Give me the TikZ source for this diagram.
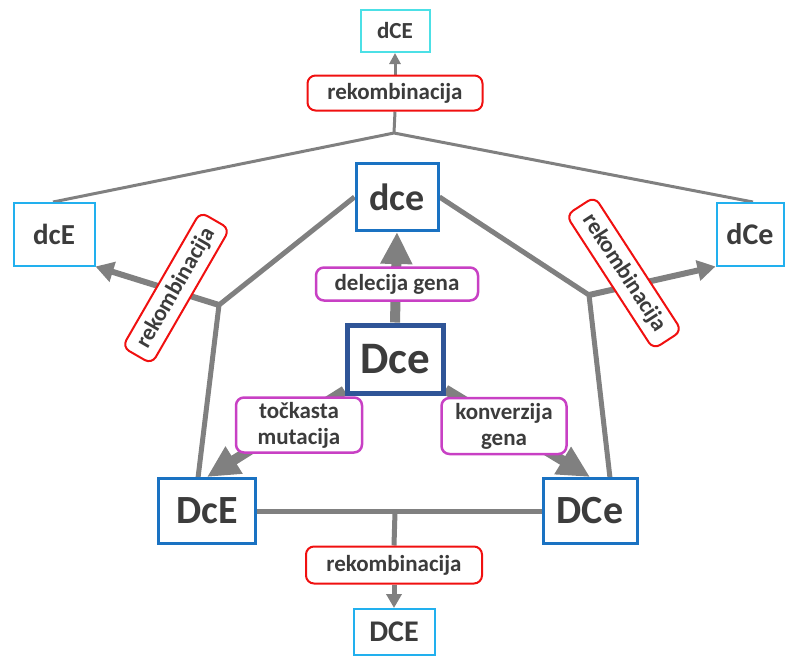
\documentclass[tikz,border=0pt]{standalone}
\usepackage{fontspec}
\setmainfont{Carlito}
\usetikzlibrary{arrows.meta,backgrounds}
\definecolor{txt}{HTML}{3C3C3C}
\definecolor{lg}{HTML}{808080}
\definecolor{cyanA}{HTML}{4CE0E6}
\definecolor{skyB}{HTML}{22B0EE}
\definecolor{blueC}{HTML}{1A72C2}
\definecolor{navyD}{HTML}{2F5597}
\definecolor{redE}{HTML}{F01010}
\definecolor{magF}{HTML}{C840C4}
\tikzset{
  every node/.style={text=txt, font=\bfseries, inner sep=0pt, align=center},
  lab/.style={draw, rounded corners=8pt, fill=white, line width=2pt,
     font=\fontsize{23}{26}\selectfont\bfseries},
  redlab/.style={lab, draw=redE},
  maglab/.style={lab, draw=magF, line width=2.5pt},
  lightbox/.style={draw=skyB, fill=white, line width=2pt},
  bluebox/.style={draw=blueC, fill=white, line width=3pt},
  thin/.style={draw=lg, line width=3pt},
  mid/.style={draw=lg, line width=5pt},
  midarrow/.style={draw=lg, line width=6pt, -{Triangle[length=18pt,width=20pt]}},
  fat/.style={draw=lg, line width=10pt, -{Triangle[length=32pt,width=30pt]}},
  fs/.style={font=\fontsize{#1}{#1}\selectfont\bfseries}
}
\begin{document}
\begin{tikzpicture}[x=1pt,y=-1pt]
\useasboundingbox (0,0) rectangle (785,657);
% nodes
\node[lightbox, draw=cyanA, minimum width=69pt, minimum height=42pt, fs=23] (dCEt) at (395,31) {dCE};
\node[redlab, minimum width=175pt, minimum height=35pt] (rtop) at (395,93) {rekombinacija};
\node[lightbox, minimum width=81pt, minimum height=63pt, fs=29] (dcE) at (54,234) {dcE};
\node[lightbox, minimum width=67pt, minimum height=63pt, fs=30] (dCe) at (750,234) {dCe};
\node[bluebox, minimum width=82pt, minimum height=67pt, fs=38] (dce) at (397,197) {dce};
\node[maglab, minimum width=162pt, minimum height=33pt] (del) at (397,284) {delecija gena};
\node[draw=navyD, fill=white, line width=5pt, minimum width=96pt, minimum height=68pt, fs=45] (Dce) at (395,359) {Dce};
\node[maglab, minimum width=126pt, minimum height=55pt] (tm) at (299,425) {točkasta\\mutacija};
\node[maglab, minimum width=125pt, minimum height=56pt] (kg) at (504,426) {konverzija\\gena};
\node[bluebox, minimum width=97pt, minimum height=65pt, fs=40] (DcE) at (207,511) {DcE};
\node[bluebox, minimum width=94pt, minimum height=65pt, fs=40] (DCe) at (590,511) {DCe};
\node[redlab, minimum width=176pt, minimum height=37pt] (rbot) at (394,565) {rekombinacija};
\node[lightbox, minimum width=81pt, minimum height=46pt, fs=30] (DCE) at (394,632) {DCE};
\node[redlab, minimum width=156pt, minimum height=34pt, rotate=60] (rl) at (176,288) {rekombinacija};
\node[redlab, minimum width=160pt, minimum height=34pt, rotate=-57] (rr) at (624,273) {rekombinacija};
% junctions
\coordinate (J1) at (394,133);
\coordinate (JL) at (219,305);
\coordinate (JR) at (589,295);
\coordinate (JB) at (395,512);
\coordinate (dcEt) at (53,202);
\coordinate (dCet) at (753,202);
\coordinate (DcEt) at (198,478);
\coordinate (DCet) at (610,478);
\begin{pgfonlayer}{background}
\draw[thin] (dcEt) -- (J1) -- (dCet);
\draw[thin] (J1) -- (rtop.south);
\draw[thin, -{Triangle[length=11pt,width=11pt]}] (rtop.north) -- (dCEt.south);
\draw[mid] (dce.west) -- (JL) -- (DcEt);
\draw[mid] (dce.east) -- (JR) -- (DCet);
\draw[midarrow] (JL) -- (dcE.south east);
\draw[midarrow] (JR) -- (dCe.south west);
\draw[fat] (Dce.north) -- (dce.south);
\draw[fat] (Dce) -- (DcE.north);
\draw[fat] (Dce) -- (DCe.north);
\draw[mid] (DcE.east) -- (DCe.west);
\draw[mid] (JB) -- (rbot.north);
\draw[mid, -{Triangle[length=14pt,width=15pt]}] (rbot.south) -- (DCE.north);
\end{pgfonlayer}
\end{tikzpicture}
\end{document}
